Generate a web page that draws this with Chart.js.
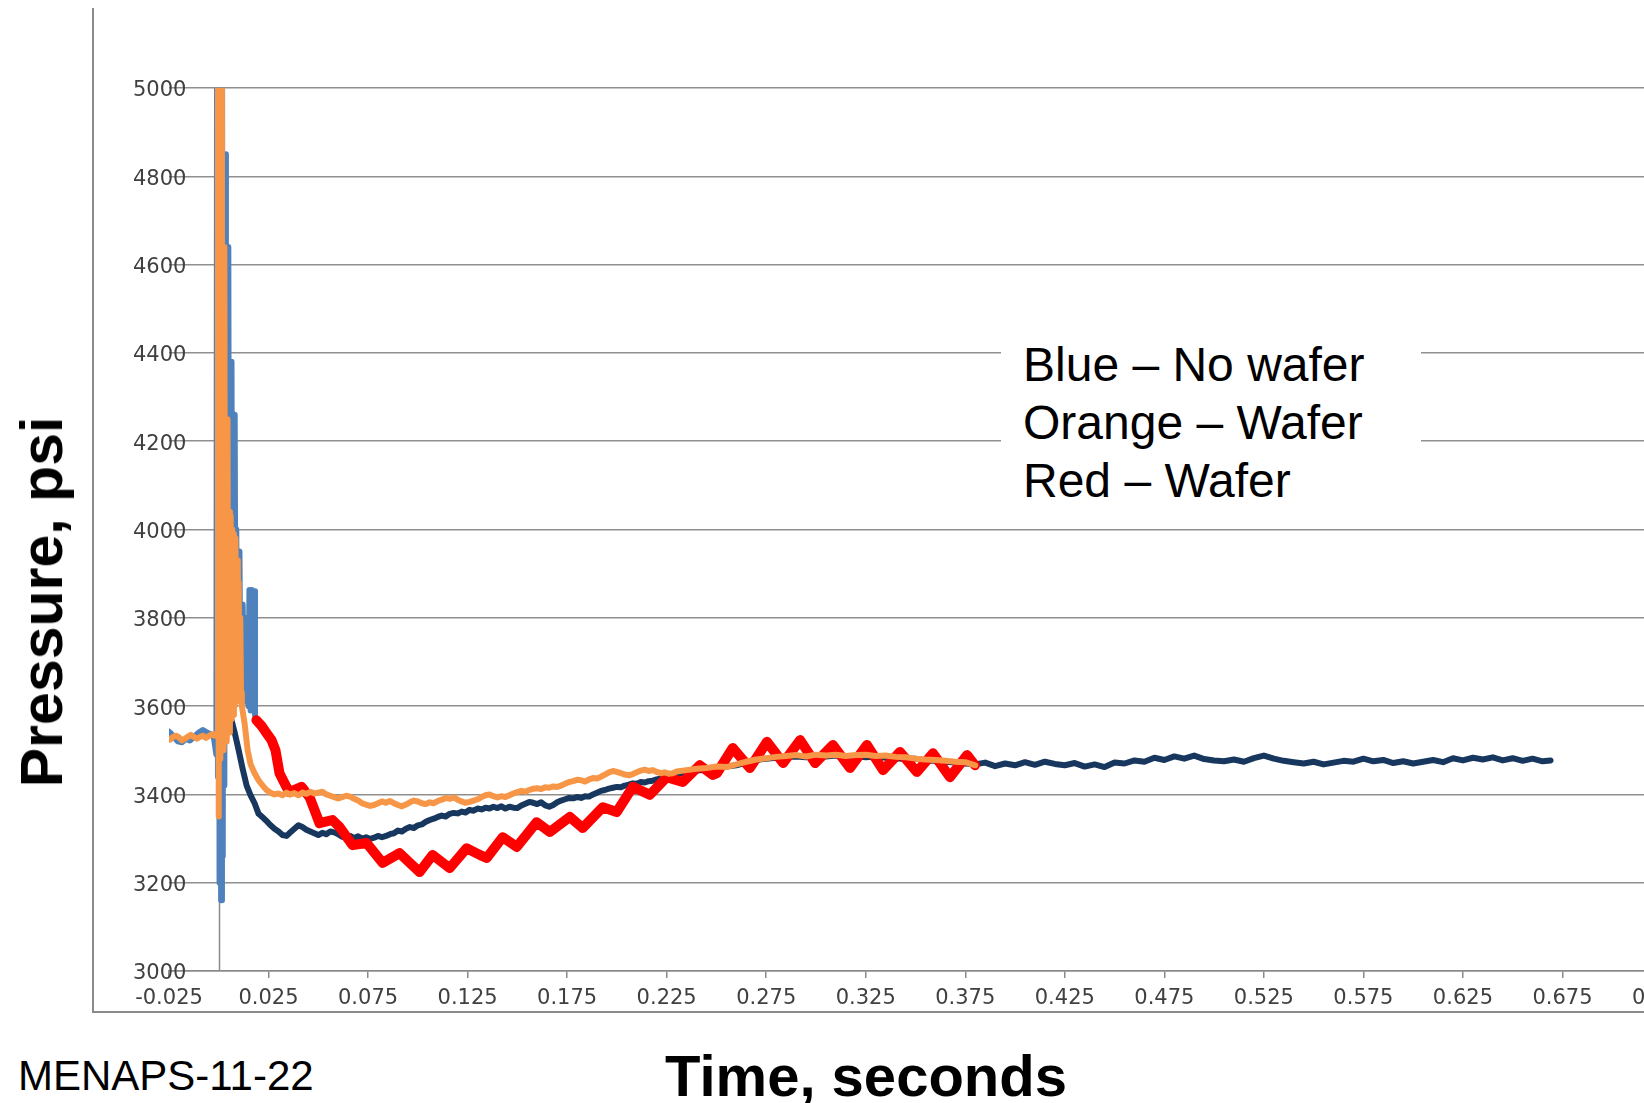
<!DOCTYPE html>
<html>
<head>
<meta charset="utf-8">
<script src="https://cdn.jsdelivr.net/npm/chart.js"></script>
<style>
  html, body { margin: 0; padding: 0; background: #fff; overflow: hidden; width: 1644px; height: 1103px; }
  #frame { position: absolute; left: 92px; top: 8px; width: 1700px; height: 1003px;
           border-left: 2px solid #8a8a8a; border-bottom: 2px solid #8a8a8a; }
  #wrap { position: absolute; left: 0; top: 0; width: 1720px; height: 1040px; }
  .lbl { position: absolute; white-space: nowrap; color: #000; font-family: "Liberation Sans", Arial, sans-serif; }
  #ytitle { left: 42px; top: 602px; transform: translate(-50%, -50%) rotate(-90deg); font-weight: bold; font-size: 59px; }
  #xtitle { left: 866px; top: 1075px; transform: translate(-50%, -50%); font-weight: bold; font-size: 58px; }
  #note { left: 18px; top: 1052px; font-size: 42px; }
  #key { left: 1001px; top: 330px; width: 420px; height: 180px; background: #fff; box-sizing: border-box;
         padding: 6px 0 0 22px; font-size: 48px; line-height: 58px; }
</style>
</head>
<body>
<div id="frame"></div>
<div id="wrap"><canvas id="pressure-chart"></canvas></div>
<div class="lbl" id="key">Blue – No wafer<br>Orange – Wafer<br>Red – Wafer</div>
<div class="lbl" id="ytitle">Pressure, psi</div>
<div class="lbl" id="xtitle">Time, seconds</div>
<div class="lbl" id="note">MENAPS-11-22</div>
<script>
// tick labels
const xTicks = [-0.025, 0.025, 0.075, 0.125, 0.175, 0.225, 0.275, 0.325, 0.375, 0.425, 0.475, 0.525, 0.575, 0.625, 0.675, 0.725];
const yTicks = [3000, 3200, 3400, 3600, 3800, 4000, 4200, 4400, 4600, 4800, 5000];

// Blue (no wafer) - light blue trace, start + firing transient
const tBlueStart = [-0.0262, -0.0245, -0.0225, -0.0205, -0.0185, -0.0165, -0.0145, -0.0125, -0.0100, -0.0080, -0.0060, -0.0040, -0.0025,
    -0.0012, -0.0008, -0.0004, 0.0000, 0.0004, 0.0008, 0.0012, 0.0016, 0.0020, 0.0024, 0.0028, 0.0032, 0.0036, 0.0040, 0.0044,
    0.0048, 0.0052, 0.0056, 0.0060, 0.0064, 0.0068, 0.0072, 0.0076, 0.0080, 0.0084, 0.0088, 0.0092, 0.0096, 0.0100, 0.0104,
    0.0108, 0.0112, 0.0116, 0.0120, 0.0126, 0.0132, 0.0138, 0.0144, 0.0150, 0.0154, 0.0160, 0.0166, 0.0172, 0.0178, 0.0182];
const pBlueStart = [3546, 3540, 3530, 3520, 3518, 3526, 3522, 3530, 3540, 3546, 3540, 3536, 3530,
    3490, 5400, 3440, 5400, 3200, 5400, 3160, 5400, 3260, 4850, 3420, 4850, 3560, 4640, 3600,
    4640, 3620, 4380, 3640, 4380, 3650, 4260, 3660, 4260, 3680, 4000, 3700, 3950, 3700, 3950,
    3660, 3830, 3620, 3830, 3640, 3800, 3610, 3780, 3600, 3863, 3590, 3863, 3600, 3860, 3580];

// Blue (no wafer) - dark trace
const tBlue = [0.0064, 0.0080, 0.0100, 0.0120, 0.0140, 0.0160, 0.0180, 0.0200, 0.0220, 0.0240, 0.0260, 0.0280, 0.0300,
    0.0320, 0.0340, 0.0360, 0.0380, 0.0400, 0.0420, 0.0440, 0.0460, 0.0480, 0.0500, 0.0520, 0.0540, 0.0560, 0.0580, 0.0600,
    0.0620, 0.0640, 0.0660, 0.0680, 0.0700, 0.0720, 0.0740, 0.0760, 0.0780, 0.0800, 0.0820, 0.0840, 0.0860, 0.0880, 0.0900,
    0.0920, 0.0940, 0.0960, 0.0980, 0.1000, 0.1020, 0.1040, 0.1060, 0.1080, 0.1100, 0.1120, 0.1140, 0.1160, 0.1180, 0.1200,
    0.1220, 0.1240, 0.1260, 0.1280, 0.1300, 0.1320, 0.1340, 0.1360, 0.1380, 0.1400, 0.1420, 0.1440, 0.1460, 0.1480, 0.1500,
    0.1520, 0.1540, 0.1560, 0.1580, 0.1600, 0.1620, 0.1640, 0.1660, 0.1680, 0.1700, 0.1720, 0.1740, 0.1760, 0.1780, 0.1800,
    0.1820, 0.1840, 0.1860, 0.1880, 0.1900, 0.1920, 0.1940, 0.1960, 0.1980, 0.2000, 0.2020, 0.2040, 0.2060, 0.2080, 0.2100,
    0.2120, 0.2140, 0.2160, 0.2180, 0.2200, 0.2220, 0.2240, 0.2260, 0.2280, 0.2300, 0.2350, 0.2400, 0.2450, 0.2500, 0.2550,
    0.2600, 0.2650, 0.2700, 0.2750, 0.2800, 0.2850, 0.2900, 0.2950, 0.3000, 0.3050, 0.3100, 0.3150, 0.3200, 0.3250, 0.3300,
    0.3350, 0.3400, 0.3450, 0.3500, 0.3550, 0.3600, 0.3650, 0.3700, 0.3750, 0.3800, 0.3850, 0.3900, 0.3950, 0.4000, 0.4050,
    0.4100, 0.4150, 0.4200, 0.4250, 0.4300, 0.4350, 0.4400, 0.4450, 0.4500, 0.4550, 0.4600, 0.4650, 0.4700, 0.4750, 0.4800,
    0.4850, 0.4900, 0.4950, 0.5000, 0.5050, 0.5100, 0.5150, 0.5200, 0.5250, 0.5300, 0.5350, 0.5400, 0.5450, 0.5500, 0.5550,
    0.5600, 0.5650, 0.5700, 0.5750, 0.5800, 0.5850, 0.5900, 0.5950, 0.6000, 0.6050, 0.6100, 0.6150, 0.6200, 0.6250, 0.6300,
    0.6350, 0.6400, 0.6450, 0.6500, 0.6550, 0.6600, 0.6650, 0.6690];
const pBlue = [3568, 3540, 3500, 3458, 3420, 3398, 3380, 3356, 3348, 3340, 3330, 3322, 3316,
    3308, 3306, 3314, 3322, 3330, 3326, 3320, 3316, 3312, 3308, 3313, 3310, 3316, 3314, 3310,
    3304, 3302, 3306, 3301, 3305, 3300, 3303, 3299, 3302, 3306, 3303, 3306, 3310, 3312, 3318,
    3316, 3322, 3326, 3324, 3330, 3332, 3338, 3342, 3345, 3349, 3352, 3350, 3356, 3358, 3357,
    3361, 3359, 3365, 3363, 3368, 3366, 3370, 3368, 3372, 3369, 3373, 3368, 3372, 3370, 3369,
    3375, 3379, 3383, 3381, 3378, 3382, 3375, 3372, 3376, 3382, 3386, 3389, 3392, 3391, 3394,
    3392, 3396, 3395, 3400, 3404, 3408, 3410, 3413, 3415, 3417, 3416, 3420, 3422, 3425, 3424,
    3428, 3427, 3430, 3431, 3434, 3436, 3439, 3441, 3444, 3446, 3450, 3454, 3456, 3460, 3463,
    3466, 3472, 3478, 3481, 3483, 3485, 3486, 3484, 3487, 3486, 3488, 3485, 3487, 3484, 3486,
    3483, 3482, 3480, 3481, 3477, 3476, 3474, 3472, 3470, 3468, 3472, 3464, 3470, 3466, 3473,
    3467, 3474, 3469, 3466, 3471, 3463, 3468, 3462, 3472, 3470, 3477, 3474, 3483, 3478, 3486,
    3481, 3488, 3480, 3477, 3475, 3479, 3474, 3482, 3488, 3481, 3476, 3473, 3470, 3474, 3468,
    3472, 3476, 3474, 3481, 3475, 3478, 3471, 3475, 3470, 3474, 3478, 3473, 3482, 3477, 3483,
    3479, 3484, 3477, 3482, 3476, 3481, 3475, 3477];

// Orange (wafer)
const tOrange = [-0.0262, -0.0245, -0.0230, -0.0215, -0.0200, -0.0185, -0.0170, -0.0155, -0.0140, -0.0125, -0.0110, -0.0095,
    -0.0080, -0.0065, -0.0050, -0.0035, -0.0020, -0.0008, -0.0004, 0.0000, 0.0004, 0.0008, 0.0012, 0.0016, 0.0020, 0.0024,
    0.0028, 0.0032, 0.0036, 0.0040, 0.0044, 0.0048, 0.0052, 0.0056, 0.0060, 0.0064, 0.0068, 0.0072, 0.0076, 0.0080, 0.0084,
    0.0088, 0.0092, 0.0096, 0.0100, 0.0104, 0.0108, 0.0112, 0.0116, 0.0130, 0.0145, 0.0160, 0.0180, 0.0200, 0.0220, 0.0240,
    0.0260, 0.0280, 0.0300, 0.0320, 0.0340, 0.0360, 0.0380, 0.0400, 0.0420, 0.0440, 0.0460, 0.0480, 0.0500, 0.0520, 0.0540,
    0.0560, 0.0580, 0.0600, 0.0620, 0.0640, 0.0660, 0.0680, 0.0700, 0.0720, 0.0740, 0.0760, 0.0780, 0.0800, 0.0820, 0.0840,
    0.0860, 0.0880, 0.0900, 0.0920, 0.0940, 0.0960, 0.0980, 0.1000, 0.1020, 0.1040, 0.1060, 0.1080, 0.1100, 0.1120, 0.1140,
    0.1160, 0.1180, 0.1200, 0.1220, 0.1240, 0.1260, 0.1280, 0.1300, 0.1320, 0.1340, 0.1360, 0.1380, 0.1400, 0.1420, 0.1440,
    0.1460, 0.1480, 0.1500, 0.1520, 0.1540, 0.1560, 0.1580, 0.1600, 0.1620, 0.1640, 0.1660, 0.1680, 0.1700, 0.1720, 0.1740,
    0.1760, 0.1780, 0.1800, 0.1820, 0.1840, 0.1860, 0.1880, 0.1900, 0.1920, 0.1940, 0.1960, 0.1980, 0.2000, 0.2020, 0.2040,
    0.2060, 0.2080, 0.2100, 0.2120, 0.2140, 0.2160, 0.2180, 0.2200, 0.2220, 0.2240, 0.2260, 0.2280, 0.2300, 0.2350, 0.2400,
    0.2450, 0.2500, 0.2550, 0.2600, 0.2650, 0.2700, 0.2750, 0.2800, 0.2850, 0.2900, 0.2950, 0.3000, 0.3050, 0.3100, 0.3150,
    0.3200, 0.3250, 0.3300, 0.3350, 0.3400, 0.3450, 0.3500, 0.3550, 0.3600, 0.3650, 0.3700, 0.3750, 0.3800];
const pOrange = [3528, 3524, 3530, 3533, 3529, 3522, 3526, 3531, 3535, 3530, 3526, 3530,
    3533, 3528, 3532, 3536, 3533, 3540, 5400, 3350, 5400, 3480, 5400, 3540, 4640, 3500,
    4640, 3550, 4250, 3520, 4250, 3560, 4040, 3540, 4030, 3570, 4000, 3580, 3990, 3600, 3980,
    3610, 3930, 3620, 3880, 3640, 3800, 3630, 3600, 3560, 3500, 3468, 3448, 3432, 3420, 3410,
    3404, 3400, 3402, 3398, 3404, 3400, 3403, 3398, 3404, 3401, 3406, 3402, 3404, 3406, 3400,
    3397, 3394, 3391, 3394, 3397, 3395, 3390, 3386, 3380, 3377, 3374, 3376, 3380, 3384, 3381,
    3385, 3380, 3376, 3373, 3377, 3382, 3386, 3384, 3380, 3378, 3382, 3380, 3385, 3388, 3392,
    3390, 3393, 3388, 3384, 3381, 3383, 3386, 3389, 3394, 3398, 3400, 3396, 3393, 3396, 3394,
    3398, 3402, 3405, 3408, 3406, 3410, 3413, 3414, 3412, 3416, 3415, 3418, 3417, 3420, 3424,
    3428, 3430, 3433, 3432, 3429, 3434, 3437, 3436, 3440, 3445, 3450, 3453, 3451, 3448, 3445,
    3443, 3446, 3450, 3454, 3456, 3453, 3455, 3451, 3448, 3450, 3447, 3448, 3452, 3455, 3458,
    3460, 3463, 3462, 3468, 3474, 3479, 3482, 3485, 3487, 3489, 3486, 3490, 3488, 3490, 3487,
    3489, 3490, 3487, 3488, 3485, 3484, 3481, 3479, 3478, 3476, 3474, 3473, 3466];

// Red (wafer)
const tRed = [0.0189, 0.0215, 0.0240, 0.0265, 0.0285, 0.0305, 0.0340, 0.0356, 0.0416, 0.0456, 0.0506, 0.0571, 0.0607,
    0.0672, 0.0742, 0.0823, 0.0908, 0.1009, 0.1074, 0.1160, 0.1245, 0.1311, 0.1346, 0.1426, 0.1497, 0.1597, 0.1663,
    0.1763, 0.1828, 0.1929, 0.1999, 0.2080, 0.2165, 0.2250, 0.2331, 0.2416, 0.2482, 0.2502, 0.2582, 0.2668, 0.2754,
    0.2835, 0.2920, 0.2996, 0.3085, 0.3171, 0.3256, 0.3337, 0.3422, 0.3507, 0.3588, 0.3673, 0.3759, 0.3799];
const pRed = [3568, 3555, 3539, 3523, 3500, 3448, 3417, 3405, 3417, 3394, 3335, 3342, 3326,
    3285, 3290, 3245, 3267, 3224, 3263, 3233, 3278, 3263, 3256, 3303, 3281, 3337, 3315,
    3349, 3324, 3371, 3360, 3417, 3399, 3439, 3428, 3466, 3444, 3448, 3505, 3460, 3519,
    3471, 3523, 3471, 3512, 3460, 3512, 3455, 3496, 3451, 3493, 3439, 3489, 3466];

const toPoints = (t, p) => t.map((x, i) => ({ x: x, y: p[i] }));

// y axis line crossing at t = 0
const zeroAxis = {
    id: "zeroAxis",
    beforeDatasetsDraw(chart) {
        const { ctx, scales: { x, y } } = chart;
        const px = Math.round(x.getPixelForValue(0)) + 0.5;
        ctx.save();
        ctx.strokeStyle = "#8a8a8a";
        ctx.lineWidth = 1.5;
        ctx.beginPath();
        ctx.moveTo(px, y.top);
        ctx.lineTo(px, y.bottom);
        ctx.stroke();
        ctx.restore();
    }
};

const tickFont = { family: "DejaVu Sans", size: 21 };

new Chart(document.getElementById("pressure-chart"), {
    type: "line",
    data: {
        datasets: [
            { label: "Orange – Wafer", data: toPoints(tOrange, pOrange), borderColor: "#f79646", borderWidth: 6 },
            { label: "Red – Wafer", data: toPoints(tRed, pRed), borderColor: "#ff0000", borderWidth: 10 },
            { label: "Blue – No wafer", data: toPoints(tBlue, pBlue), borderColor: "#17375e", borderWidth: 6 },
            { label: "Blue – No wafer (start)", data: toPoints(tBlueStart, pBlueStart), borderColor: "#4f81bd", borderWidth: 6 }
        ]
    },
    options: {
        responsive: true,
        maintainAspectRatio: false,
        animation: false,
        events: [],
        layout: { padding: { top: 88, right: 58, left: 0, bottom: 0 } },
        elements: {
            point: { radius: 0 },
            line: { tension: 0, borderJoinStyle: "round", borderCapStyle: "round", fill: false }
        },
        datasets: { line: { clip: 0 } },
        plugins: { legend: { display: false }, tooltip: { enabled: false } },
        scales: {
            x: {
                type: "linear",
                min: -0.025,
                max: 0.725,
                afterBuildTicks: s => { s.ticks = xTicks.map(v => ({ value: v })); },
                afterFit: s => { s.height = 69; },
                grid: { drawOnChartArea: false, drawTicks: true, tickLength: 7, color: "#8a8a8a", lineWidth: 1.5 },
                border: { display: true, color: "#8a8a8a", width: 1.5 },
                ticks: { font: tickFont, color: "#404040", padding: 8, maxRotation: 0, autoSkip: false,
                         callback: v => v.toFixed(3) }
            },
            y: {
                min: 3000,
                max: 5000,
                afterBuildTicks: s => { s.ticks = yTicks.map(v => ({ value: v })); },
                afterFit: s => { s.width = 169; },
                grid: { color: "#8f8f8f", lineWidth: 1.5, drawTicks: false },
                border: { display: false },
                ticks: { font: tickFont, color: "#404040", mirror: true, crossAlign: "far", padding: -36,
                         labelOffset: 3, callback: v => String(v) }
            }
        }
    },
    plugins: [zeroAxis]
});
</script>
</body>
</html>
